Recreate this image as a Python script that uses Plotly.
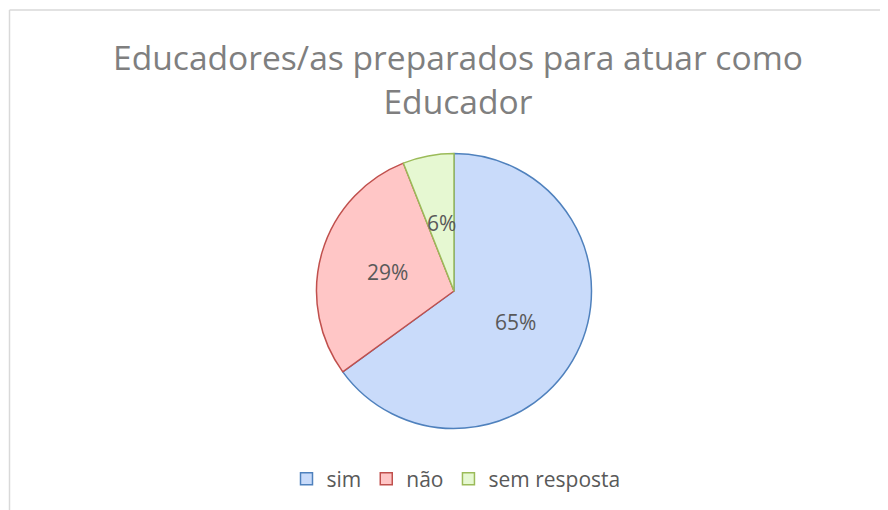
import math

import plotly.graph_objects as go

# Chart data
labels = ["sim", "não", "sem resposta"]
values = [65, 29, 6]

title_text = "Educadores/as preparados para atuar como<br>Educador"

# Excel-like palette (fill / outline per slice)
fill_colors = ["#C9DBFA", "#FFC6C6", "#E6F8D2"]
line_colors = ["#4F81BD", "#C0504D", "#9BBB59"]

# Page body has an 8px margin, so the figure is 8px smaller than the window
W, H = 880, 502
cx, cy, r = 446, 283, 137.5

fig = go.Figure(
    go.Pie(
        labels=labels,
        values=values,
        sort=False,
        direction="clockwise",
        rotation=0,
        textinfo="none",
        marker=dict(colors=fill_colors, line=dict(color=line_colors, width=1.5)),
        domain=dict(
            x=[(cx - r) / W, (cx + r) / W],
            y=[(H - cy - r) / H, (H - cy + r) / H],
        ),
        hoverinfo="label+percent",
    )
)

# Data labels Excel-style: at half radius on each slice's mid angle
total = sum(values)
annotations = []
start = 0.0
for v in values:
    mid = math.radians((start + v / 2) / total * 360)
    start += v
    lx = cx + 0.5 * r * math.sin(mid)
    ly = cy - 0.5 * r * math.cos(mid)
    annotations.append(dict(
        text=f"{v / total:.0%}", x=lx / W, y=(H - ly) / H,
        xref="paper", yref="paper", xanchor="center", yanchor="middle",
        showarrow=False, font=dict(family="Open Sans", size=21, color="#595959"),
    ))

annotations.append(dict(
    text=title_text, x=450 / W, y=(H - 71) / H,
    xref="paper", yref="paper", xanchor="center", yanchor="middle",
    showarrow=False, font=dict(family="Open Sans", size=33.6, color="#7F7F7F"),
))

fig.update_layout(
    width=W,
    height=H,
    margin=dict(l=0, r=0, t=0, b=0),
    paper_bgcolor="white",
    showlegend=True,
    legend=dict(
        orientation="h",
        x=448 / W,
        xanchor="center",
        y=(H - 471) / H,
        yanchor="middle",
        font=dict(family="Open Sans", size=21, color="#595959"),
        itemwidth=30,
    ),
    annotations=annotations,
    shapes=[
        # light chart-area frame (runs off the right and bottom edges)
        dict(type="line", xref="paper", yref="paper", x0=1.5 / W, x1=1.0,
             y0=(H - 2) / H, y1=(H - 2) / H, line=dict(color="#D9D9D9", width=1.5)),
        dict(type="line", xref="paper", yref="paper", x0=1.5 / W, x1=1.5 / W,
             y0=0.0, y1=(H - 2) / H, line=dict(color="#D9D9D9", width=1.5)),
    ],
)

fig.write_html("out.html")
